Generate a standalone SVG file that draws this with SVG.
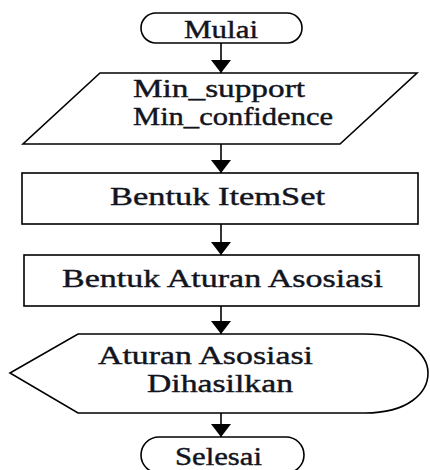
<svg xmlns="http://www.w3.org/2000/svg" width="430" height="470" viewBox="0 0 430 470">
  <defs>
    <marker id="arr" viewBox="0 0 13 20" refX="13" refY="10" markerWidth="13" markerHeight="20" orient="auto" markerUnits="userSpaceOnUse">
      <path d="M0,0 L13,10 L0,20 Z" fill="#000"/>
    </marker>
    <style>
      .shape { fill: #fff; stroke: #000; stroke-width: 1.6; }
      .lbl { font-family: "Liberation Serif", "Times New Roman", serif; font-size: 25px; fill: #121420; stroke: #121420; stroke-width: 0.4; }
      .conn { stroke: #000; stroke-width: 1.6; fill: none; marker-end: url(#arr); }
    </style>
  </defs>
  <rect width="430" height="470" fill="#fff"/>
  <g id="connectors">
    <line class="conn" x1="221" y1="43" x2="221" y2="73"/>
    <line class="conn" x1="221" y1="144" x2="221" y2="173"/>
    <line class="conn" x1="221" y1="224" x2="221" y2="255"/>
    <line class="conn" x1="221" y1="306" x2="221" y2="334"/>
    <line class="conn" x1="221" y1="413" x2="221" y2="437"/>
  </g>
  <g id="mulai">
    <rect class="shape" x="141" y="13" width="161" height="30" rx="15" ry="15"/>
    <text class="lbl" x="184" y="38" textLength="74" lengthAdjust="spacingAndGlyphs">Mulai</text>
  </g>
  <g id="input">
    <polygon class="shape" points="100,73 417,73 340,144 23,144"/>
    <text class="lbl" x="133" y="97" textLength="172" lengthAdjust="spacingAndGlyphs">Min_support</text>
    <text class="lbl" x="133" y="125" textLength="200" lengthAdjust="spacingAndGlyphs">Min_confidence</text>
  </g>
  <g id="itemset">
    <rect class="shape" x="22" y="173" width="396" height="51"/>
    <text class="lbl" x="110" y="205" textLength="215" lengthAdjust="spacingAndGlyphs">Bentuk ItemSet</text>
  </g>
  <g id="aturan">
    <rect class="shape" x="24" y="255" width="395" height="51"/>
    <text class="lbl" x="62" y="287" textLength="321" lengthAdjust="spacingAndGlyphs">Bentuk Aturan Asosiasi</text>
  </g>
  <g id="output">
    <path class="shape" d="M10,373 L78,334 L365,334 C408,334 428,355 428,373 C428,393 408,413 365,413 L78,413 Z"/>
    <text class="lbl" x="98" y="364" textLength="215" lengthAdjust="spacingAndGlyphs">Aturan Asosiasi</text>
    <text class="lbl" x="147" y="392" textLength="146" lengthAdjust="spacingAndGlyphs">Dihasilkan</text>
  </g>
  <g id="selesai">
    <rect class="shape" x="141" y="437" width="163" height="36" rx="18" ry="18"/>
    <text class="lbl" x="175" y="465" textLength="87" lengthAdjust="spacingAndGlyphs">Selesai</text>
  </g>
</svg>
